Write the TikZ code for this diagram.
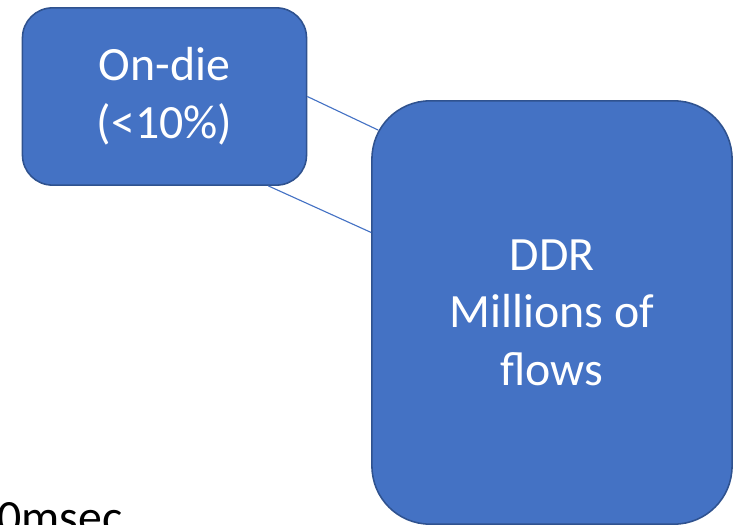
\documentclass[tikz,border=0pt]{standalone}
\usepackage{fontspec}
\setmainfont{Carlito}
\usetikzlibrary{calc}
\definecolor{boxblue}{HTML}{4472C4}
\definecolor{edgeblue}{HTML}{2F528F}
\tikzset{
  memblock/.style={draw=edgeblue,line width=1.1pt,fill=boxblue,text=white,
    align=center,font=\fontsize{34}{41}\selectfont,inner sep=0pt},
  link/.style={draw=boxblue,line width=0.8pt}
}
\begin{document}
\begin{tikzpicture}[x=0.025cm,y=-0.025cm]
			\useasboundingbox (0,0) rectangle (742,525);

			% Memory blocks
			\node[memblock,minimum width=7.1cm,minimum height=4.43cm,rounded corners=0.75cm] (ondie) at (164.5,96.5) {On-die\\(<10\%)};
			\node[memblock,minimum width=9cm,minimum height=10.58cm,rounded corners=1.45cm] (ddr) at (552,312.5) {DDR\\Millions of\\flows};

			% Latency label
			\node[anchor=base west,inner sep=0pt,font=\fontsize{34}{41}\selectfont] (latency) at (-3,533) {0msec};

			% Links between blocks
			\draw[link] (ondie.east) -- ($(ddr.north west)+(7,30)$);
			\draw[link] ($(ondie.south east)+(-39,0)$) -- ($(ddr.west)+(0,-80)$);
		\end{tikzpicture}
\end{document}
